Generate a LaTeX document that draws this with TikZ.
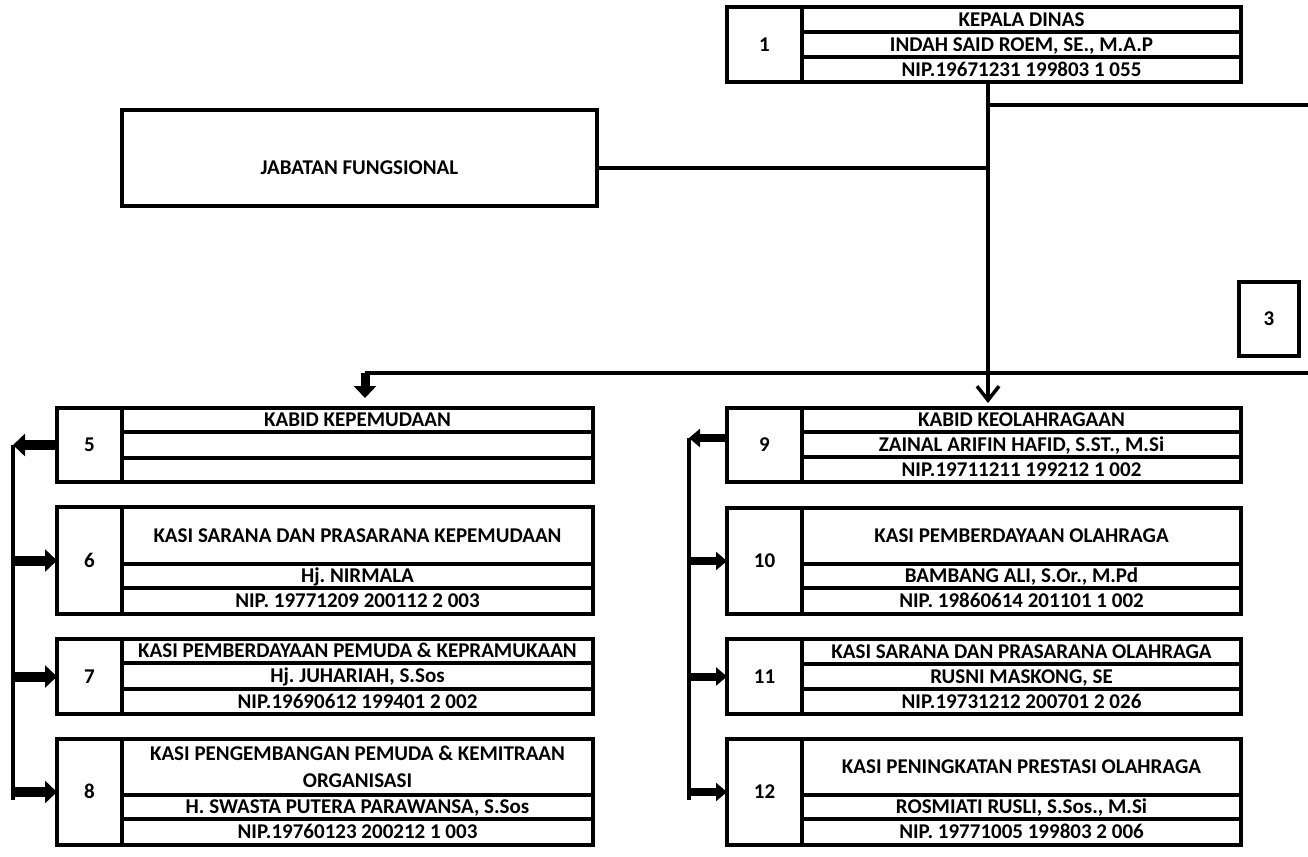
\documentclass[tikz,border=0pt]{standalone}
\usepackage{fontspec}
\setmainfont{Carlito}
\usetikzlibrary{arrows.meta}
\frenchspacing
\newcommand\cellnode[7][]{\node[cell,#1,minimum width={#5-#3},minimum height={#6-#4}] (#2) at (#3,#4) {#7};}
\begin{document}
\begin{tikzpicture}[x=1pt,y=-1pt,
  cell/.style={draw,line width=3.5pt,inner sep=0pt,outer sep=0pt,anchor=north west,
    font=\bfseries\fontsize{21}{27}\selectfont,text height=13.5pt,text depth=0pt},
  cellb/.style={text height=,text depth=,align=center},
  conn/.style={line width=4pt},
  fat/.style={line width=10pt,-{Triangle[length=12pt,width=22pt]}},
  fatb/.style={line width=8pt,-{Triangle[length=11pt,width=18pt]}},
  barb/.style={line width=3.5pt,-{Straight Barb[length=14pt,width=22pt]}}]
\useasboundingbox (0,0) rectangle (1308,856);
% top box
\cellnode{b1n}{727}{7}{802}{82}{1}
\cellnode{b1a}{802}{7}{1241}{32}{KEPALA DINAS}
\cellnode{b1b}{802}{32}{1241}{57}{INDAH SAID ROEM, SE., M.A.P}
\cellnode{b1c}{802}{57}{1241}{82}{NIP.19671231 199803 1 055}
% jabatan fungsional
\cellnode{jf}{122}{110}{597}{206}{\raisebox{-10pt}{JABATAN FUNGSIONAL}}
% box 3
\cellnode{b3}{1239}{282}{1299}{356}{3}
% left column
\cellnode{b5n}{57}{408}{122}{482}{5}
\cellnode{b5a}{122}{408}{593}{432}{KABID KEPEMUDAAN}
\cellnode{b5b}{122}{432}{593}{458}{}
\cellnode{b5c}{122}{458}{593}{482}{}
\cellnode{b6n}{57}{507}{122}{614}{6}
\cellnode{b6a}{122}{507}{593}{564}{KASI SARANA DAN PRASARANA KEPEMUDAAN}
\cellnode{b6b}{122}{564}{593}{588}{Hj. NIRMALA}
\cellnode{b6c}{122}{588}{593}{614}{NIP. 19771209 200112 2 003}
\cellnode{b7n}{57}{639}{122}{714}{7}
\cellnode{b7a}{122}{639}{593}{663}{KASI PEMBERDAYAAN PEMUDA \& KEPRAMUKAAN}
\cellnode{b7b}{122}{663}{593}{689}{Hj. JUHARIAH, S.Sos}
\cellnode{b7c}{122}{689}{593}{714}{NIP.19690612 199401 2 002}
\cellnode{b8n}{57}{739}{122}{845}{8}
\cellnode[cellb]{b8a}{122}{739}{593}{795}{KASI PENGEMBANGAN PEMUDA \& KEMITRAAN\\ORGANISASI}
\cellnode{b8b}{122}{795}{593}{819}{H. SWASTA PUTERA PARAWANSA, S.Sos}
\cellnode{b8c}{122}{819}{593}{845}{NIP.19760123 200212 1 003}
% right column
\cellnode{b9n}{727}{408}{802}{482}{9}
\cellnode{b9a}{802}{408}{1241}{432}{KABID KEOLAHRAGAAN}
\cellnode{b9b}{802}{432}{1241}{457}{ZAINAL ARIFIN HAFID, S.ST., M.Si}
\cellnode{b9c}{802}{457}{1241}{482}{NIP.19711211 199212 1 002}
\cellnode{b10n}{727}{508}{802}{614}{10}
\cellnode{b10a}{802}{508}{1241}{564}{KASI PEMBERDAYAAN OLAHRAGA}
\cellnode{b10b}{802}{564}{1241}{588}{BAMBANG ALI, S.Or., M.Pd}
\cellnode{b10c}{802}{588}{1241}{614}{NIP. 19860614 201101 1 002}
\cellnode{b11n}{727}{639}{802}{714}{11}
\cellnode{b11a}{802}{639}{1241}{664}{KASI SARANA DAN PRASARANA OLAHRAGA}
\cellnode{b11b}{802}{664}{1241}{689}{RUSNI MASKONG, SE}
\cellnode{b11c}{802}{689}{1241}{714}{NIP.19731212 200701 2 026}
\cellnode{b12n}{727}{739}{802}{845}{12}
\cellnode{b12a}{802}{739}{1241}{795}{KASI PENINGKATAN PRESTASI OLAHRAGA}
\cellnode{b12b}{802}{795}{1241}{819}{ROSMIATI RUSLI, S.Sos., M.Si}
\cellnode{b12c}{802}{819}{1241}{845}{NIP. 19771005 199803 2 006}
% connector coordinates
\coordinate (v0) at (988,82);
\coordinate (vR) at (988,105);
\coordinate (eR) at (1308,105);
\coordinate (vJ) at (988,168);
\coordinate (hL) at (365,373);
\coordinate (hR) at (1308,373);
\coordinate (Lt) at (13,445);
\coordinate (Lb) at (13,800);
\coordinate (Rt) at (689,438);
\coordinate (Rb) at (689,800);
% main connectors
\draw[barb,shorten >=5pt] (v0) -- (b9a.north -| v0);
\draw[conn] (vR) -- (eR);
\draw[conn] (jf.east |- vJ) -- (vJ);
\draw[conn] (hR) -- (hL);
\draw[fat,line width=9pt,shorten >=10pt] (hL) -- (b5a.north -| hL);
% left tree
\draw[conn] (Lt) -- (Lb);
\draw[fat] (b5n.west) -- (Lt);
\draw[fat] (b6n.west -| Lt) -- (b6n.west);
\draw[fat] (b7n.west -| Lt) -- (b7n.west);
\draw[fat] (b8n.west -| Lt) -- (b8n.west);
% right tree
\draw[conn] (Rt) -- (Rb);
\draw[fatb] (b9n.west |- Rt) -- (Rt);
\draw[fatb] (b10n.west -| Rt) -- (b10n.west);
\draw[fatb] (b11n.west -| Rt) -- (b11n.west);
\draw[fatb] (b12n.west -| Rt) -- (b12n.west);
\end{tikzpicture}
\end{document}
